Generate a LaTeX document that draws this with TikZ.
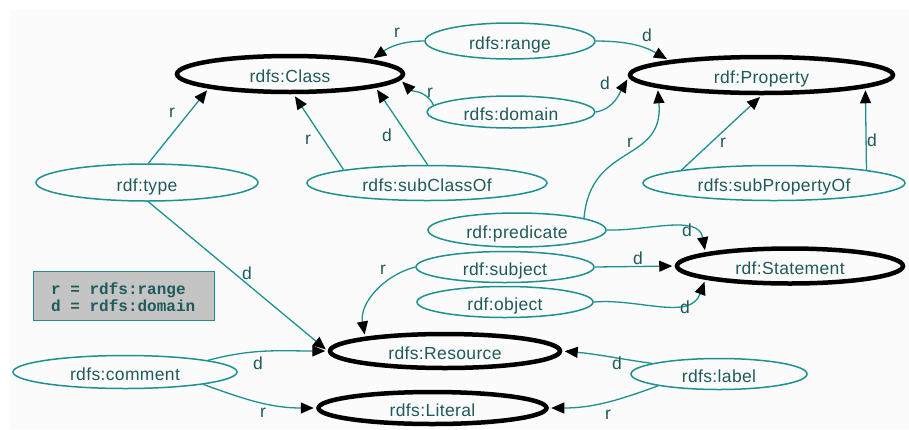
\documentclass[tikz,border=0pt]{standalone}
\usepackage{fontspec}
\setmainfont{Liberation Sans}[LetterSpace=2]
\newfontfamily\legendfont{Liberation Mono}
\usetikzlibrary{shapes.geometric,arrows.meta}
\definecolor{teal1}{HTML}{1E9090}
\definecolor{txtc}{HTML}{1F5A5A}
\definecolor{bgc}{HTML}{FBFBFB}
\definecolor{legfill}{HTML}{C4C4C4}
\begin{document}
\begin{tikzpicture}[x=1pt,y=-1pt,
  every node/.style={font=\fontsize{17.5}{20}\selectfont, text=txtc},
  thinell/.style={ellipse, draw=teal1, line width=1.5pt, inner sep=0pt, text height=17pt, text depth=0pt},
  thickell/.style={ellipse, draw=black, line width=4.5pt, inner sep=0pt, text height=17pt, text depth=0pt},
  conn/.style={draw=teal1, line width=1.3pt, -{Triangle[length=13pt,width=11pt,color=black]}, shorten >=2.5pt},
  lbl/.style={inner sep=0pt}]
\useasboundingbox (0,0) rectangle (909,429);
\fill[bgc] (10,10) rectangle (909,429);

% main (thick) nodes
\node[thickell, minimum width=226pt, minimum height=36pt] (Class) at (290,74) {rdfs:Class};
\node[thickell, minimum width=263pt, minimum height=36pt] (Property) at (761.5,75) {rdf:Property};
\node[thickell, minimum width=226pt, minimum height=35pt] (Statement) at (790,266) {rdf:Statement};
\node[thickell, minimum width=230pt, minimum height=34pt] (Resource) at (445,351) {rdfs:Resource};
\node[thickell, minimum width=228pt, minimum height=32pt] (Literal) at (432.5,408) {rdfs:Literal};

% thin nodes
\node[thinell, minimum width=170pt, minimum height=36pt] (range) at (510,41) {rdfs:range};
\node[thinell, minimum width=168pt, minimum height=32pt] (domain) at (511,112) {rdfs:domain};
\node[thinell, minimum width=222pt, minimum height=37pt] (type) at (147,182.5) {rdf:type};
\node[thinell, minimum width=240pt, minimum height=35pt] (subClassOf) at (427,183) {rdfs:subClassOf};
\node[thinell, minimum width=262pt, minimum height=35pt] (subPropertyOf) at (774,183) {rdfs:subPropertyOf};
\node[thinell, minimum width=178pt, minimum height=34pt] (predicate) at (517,230) {rdf:predicate};
\node[thinell, minimum width=178pt, minimum height=31pt] (subject) at (505,267) {rdf:subject};
\node[thinell, minimum width=176pt, minimum height=31pt] (object) at (505,302) {rdf:object};
\node[thinell, minimum width=224pt, minimum height=33pt] (comment) at (125,372) {rdfs:comment};
\node[thinell, minimum width=176pt, minimum height=31pt] (label) at (719,374) {rdfs:label};

% legend
\node[draw=teal1, line width=0.8pt, fill=legfill, minimum width=181pt, minimum height=49pt, inner sep=0pt] (legend) at (123.5,295.5) {};
\node[anchor=west, align=left, inner sep=0pt, font=\legendfont\bfseries\fontsize{16}{17}\selectfont, text=txtc] (legtext) at (51,297.5) {r = rdfs:range\\d = rdfs:domain};

% connectors
\draw[conn] (range.west) to[out=180,in=35] (Class.10);
\draw[conn] (range.east) to[out=0,in=150] (Property.171);
\draw[conn] (domain.175) to[out=115,in=-45] (Class.-3);
\draw[conn] (domain.east) to[out=10,in=240] (Property.181);
\draw[conn] (type.86) -- (Class.190);
\draw[conn] (subClassOf.171) -- (Class.-80);
\draw[conn] (subClassOf.88) -- (Class.-9);
\draw[conn] (type.-86) -- (Resource.180);
\draw[conn] (predicate.10) to[out=85,in=-85,looseness=1.3] (Property.187.5);
\draw[conn] (subPropertyOf.172) -- (Property.-89);
\draw[conn] (subPropertyOf.8) -- (Property.-7);
\draw[conn] (predicate.east) to[out=-2,in=100] (Statement.171);
\draw[conn] (subject.east) -- (Statement.west);
\draw[conn] (object.east) to[out=5,in=-110] (Statement.189);
\draw[conn] (subject.west) to[out=195,in=100] (Resource.170);
\draw[conn] (comment.8) to[out=15,in=180] (Resource.180);
\draw[conn] (comment.-9) to[out=-20,in=180] (Literal.180);
\draw[conn] (label.171) to[out=172,in=-5] (Resource.east);
\draw[conn] (label.191) to[out=200,in=0] (Literal.east);

% edge labels
\node[lbl] (l1) at (397,33) {r};
\node[lbl] (l2) at (647,35) {d};
\node[lbl] (l3) at (430,93) {r};
\node[lbl] (l4) at (605,83) {d};
\node[lbl] (l5) at (172,113) {r};
\node[lbl] (l6) at (308,140) {r};
\node[lbl] (l7) at (387,135) {d};
\node[lbl] (l8) at (247,273) {d};
\node[lbl] (l9) at (630,143) {r};
\node[lbl] (l10) at (723,143) {r};
\node[lbl] (l11) at (872,140) {d};
\node[lbl] (l12) at (687,230) {d};
\node[lbl] (l13) at (638,258) {d};
\node[lbl] (l14) at (685,307) {d};
\node[lbl] (l15) at (383,270) {r};
\node[lbl] (l16) at (258,363) {d};
\node[lbl] (l17) at (263,413) {r};
\node[lbl] (l18) at (617,363) {d};
\node[lbl] (l19) at (608,415) {r};
\end{tikzpicture}
\end{document}
